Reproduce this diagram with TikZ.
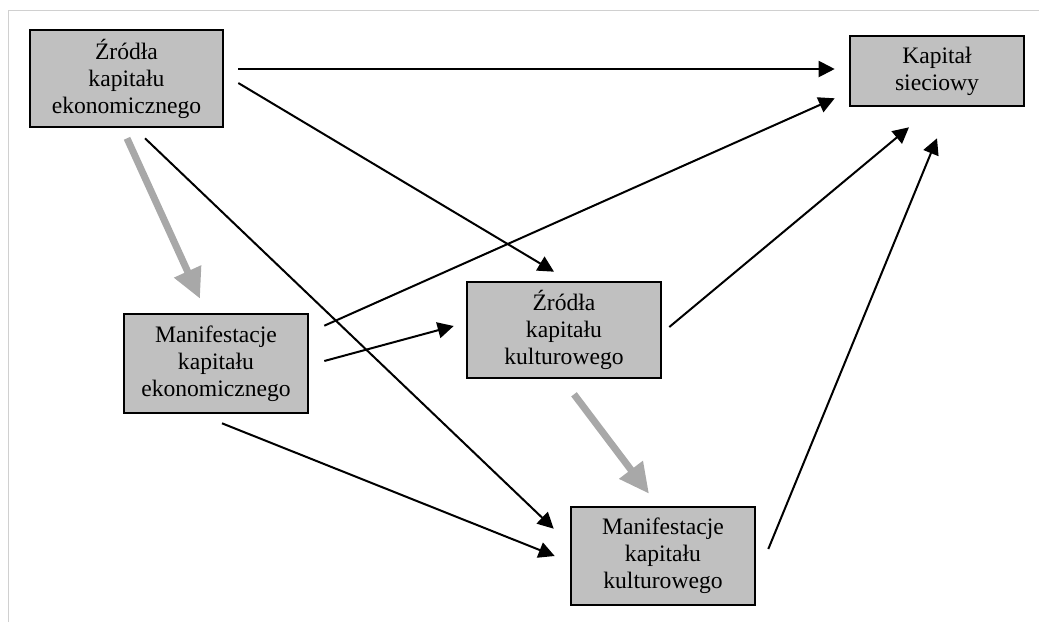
\documentclass[tikz,border=0pt]{standalone}
\usepackage{fontspec}
\setmainfont{Liberation Serif}
\usetikzlibrary{arrows.meta}
\definecolor{boxgray}{HTML}{C0C0C0}
\definecolor{flowgray}{HTML}{A8A8A8}
\definecolor{framegray}{HTML}{D0D0D0}

\begin{document}
\begin{tikzpicture}[x=0.5pt,y=-0.5pt,>/.tip={Triangle[length=8pt,width=8pt]},
    box/.style={draw,line width=1.3pt,fill=boxgray,align=center,inner sep=0pt,
      font=\fontsize{11.8}{13.5}\selectfont},
    link/.style={->,line width=1pt},
    flow/.style={-{Triangle[length=15pt,width=14pt]},line width=3.5pt,draw=flowgray}]
    % The frame
    \useasboundingbox (0,0) rectangle (1039,622);
    \draw[framegray,line width=0.5pt] (8,622) -- (8,10) -- (1039,10);
    % The boxes
    \node[box,minimum width=96.5pt,minimum height=48.5pt] (econsrc) at (126.5,78.5)
      {Źródła\\kapitału\\ekonomicznego};
    \node[box,minimum width=87pt,minimum height=35pt] (network) at (937,71)
      {Kapitał\\sieciowy};
    \node[box,minimum width=97pt,minimum height=48pt] (cultsrc) at (564,330)
      {Źródła\\kapitału\\kulturowego};
    \node[box,minimum width=92pt,minimum height=49.5pt] (econman) at (216,363.5)
      {Manifestacje\\kapitału\\ekonomicznego};
    \node[box,minimum width=92pt,minimum height=49pt] (cultman) at (663,556)
      {Manifestacje\\kapitału\\kulturowego};
    % The black links
    \draw[link] ([shift={(14,-9.5)}]econsrc.east) -- ([shift={(-14,-2)}]network.west);
    \draw[link] ([shift={(14,4.5)}]econsrc.east) -- ([shift={(-10,-9)}]cultsrc.north);
    \draw[link] ([shift={(18.5,10)}]econsrc.south) -- ([shift={(-16,23)}]cultman.north west);
    \draw[link] ([shift={(15,13)}]econman.north east) -- ([shift={(-14,-9)}]network.south west);
    \draw[link] ([shift={(15,-2.5)}]econman.east) -- ([shift={(-12,-4)}]cultsrc.west);
    \draw[link] ([shift={(6,9)}]econman.south) -- ([shift={(-15,0)}]cultman.west);
    \draw[link] ([shift={(7,-3)}]cultsrc.east) -- ([shift={(-28,20)}]network.south);
    \draw[link] ([shift={(12,-7)}]cultman.east) -- ([shift={(0,31)}]network.south);
    % The gray flows
    \draw[flow] ([shift={(0.5,10)}]econsrc.south) -- ([shift={(-16,-14)}]econman.north);
    \draw[flow] ([shift={(10,15)}]cultsrc.south) -- ([shift={(-14,-12)}]cultman.north);
\end{tikzpicture}
\end{document}
